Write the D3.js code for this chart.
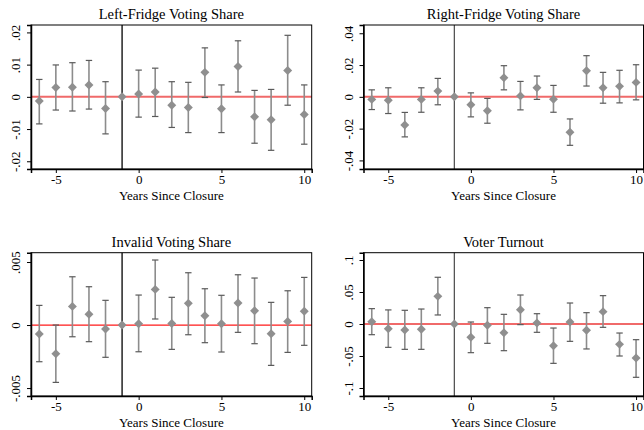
<!DOCTYPE html>
<html>
<head>
<meta charset="utf-8">
<script src="https://cdn.jsdelivr.net/npm/d3@7"></script>
<style>
  html, body { margin: 0; padding: 0; background: #fff; }
  svg { display: block; }
  svg text { font-family: "Liberation Serif", "Times New Roman", serif; fill: #000; }
</style>
</head>
<body>
<svg id="chart" width="644" height="430"></svg>
<script>
// Event-study estimates: years relative to closure, point estimates and 95% CI bounds
const years = [-6, -5, -4, -3, -2, -1, 0, 1, 2, 3, 4, 5, 6, 7, 8, 9, 10];

const leftEst = [-0.0013, 0.0029, 0.0030, 0.0037, -0.0036, 0, 0.0009, 0.0015, -0.0026, -0.0033, 0.0076, -0.0037, 0.0094, -0.0062, -0.0071, 0.0082, -0.0055];
const leftLo  = [-0.0084, -0.0041, -0.0044, -0.0038, -0.0115, 0, -0.0063, -0.0061, -0.0095, -0.0111, -0.0002, -0.0111, 0.0015, -0.0144, -0.0166, -0.0026, -0.0147];
const leftHi  = [0.0054, 0.0099, 0.0106, 0.0113, 0.0047, 0, 0.0083, 0.0089, 0.0047, 0.0045, 0.0152, 0.0037, 0.0174, 0.0020, 0.0023, 0.0191, 0.0037];

const rightEst = [-0.0016, -0.0021, -0.0177, -0.0016, 0.0036, 0, -0.0050, -0.0088, 0.0120, 0.0006, 0.0057, -0.0015, -0.0223, 0.0164, 0.0057, 0.0066, 0.0091];
const rightLo  = [-0.0080, -0.0105, -0.0252, -0.0097, -0.0050, 0, -0.0126, -0.0166, 0.0044, -0.0082, -0.0016, -0.0097, -0.0305, 0.0068, -0.0040, -0.0038, -0.0019];
const rightHi  = [0.0044, 0.0057, -0.0098, 0.0057, 0.0116, 0, 0.0025, -0.0010, 0.0196, 0.0097, 0.0131, 0.0072, -0.0139, 0.0259, 0.0154, 0.0167, 0.0202];

const invalidEst = [-0.00071, -0.00228, 0.00148, 0.00085, -0.00032, 0, 0.00010, 0.00283, 0.00013, 0.00172, 0.00074, 0.00010, 0.00175, 0.00114, -0.00069, 0.00029, 0.00109];
const invalidLo  = [-0.00291, -0.00455, -0.00093, -0.00132, -0.00256, 0, -0.00212, 0.00048, -0.00193, -0.00077, -0.00140, -0.00214, -0.00058, -0.00148, -0.00320, -0.00217, -0.00161];
const invalidHi  = [0.00156, 0.00000, 0.00383, 0.00304, 0.00196, 0, 0.00238, 0.00516, 0.00220, 0.00415, 0.00288, 0.00236, 0.00399, 0.00373, 0.00180, 0.00272, 0.00378];

const turnoutEst = [0.0036, -0.0073, -0.0094, -0.0083, 0.0432, 0, -0.0208, -0.0020, -0.0136, 0.0224, 0.0016, -0.0339, 0.0031, -0.0099, 0.0193, -0.0318, -0.0531];
const turnoutLo  = [-0.0167, -0.0365, -0.0396, -0.0396, 0.0141, 0, -0.0448, -0.0302, -0.0417, -0.0010, -0.0130, -0.0615, -0.0271, -0.0390, -0.0052, -0.0500, -0.0833];
const turnoutHi  = [0.0240, 0.0220, 0.0214, 0.0234, 0.0730, 0, 0.0031, 0.0255, 0.0151, 0.0453, 0.0161, -0.0063, 0.0328, 0.0177, 0.0443, -0.0141, -0.0245];

const xTicks = [-5, 0, 5, 10];
const xTickLabels = ["-5", "0", "5", "10"];
const xTitle = "Years Since Closure";

const panels = [
  { title: "Left-Fridge Voting Share",  est: leftEst,    lo: leftLo,    hi: leftHi,
    yDomain: [-0.0224, 0.0223], yTicks: [-0.02, -0.01, 0, 0.01, 0.02], yLabels: ["-.02", "-.01", "0", ".01", ".02"],
    box: [31, 25, 311.7, 169], zeroColor: "#f06a6a", zeroWidth: 2, refColor: "#000" },
  { title: "Right-Fridge Voting Share", est: rightEst,   lo: rightLo,   hi: rightHi,
    yDomain: [-0.0454, 0.0452], yTicks: [-0.04, -0.02, 0, 0.02, 0.04], yLabels: ["-.04", "-.02", "0", ".02", ".04"],
    box: [363.5, 25, 643.5, 169], zeroColor: "#f06a6a", zeroWidth: 2, refColor: "#555" },
  { title: "Invalid Voting Share",      est: invalidEst, lo: invalidLo, hi: invalidHi,
    yDomain: [-0.00563, 0.00574], yTicks: [-0.005, 0, 0.005], yLabels: ["-.005", "0", ".005"],
    box: [31, 252.7, 311.7, 396], zeroColor: "#ff1a1a", zeroWidth: 1.3, refColor: "#000" },
  { title: "Voter Turnout",             est: turnoutEst, lo: turnoutLo, hi: turnoutHi,
    yDomain: [-0.1125, 0.1114], yTicks: [-0.1, -0.05, 0, 0.05, 0.1], yLabels: ["-.1", "-.05", "0", ".05", ".1"],
    box: [363.5, 252.7, 643.5, 396], zeroColor: "#f06a6a", zeroWidth: 2, refColor: "#555" }
];

const serif = '"Liberation Serif", "Times New Roman", serif';
const svg = d3.select("#chart");
const diamond = d3.symbol().type(d3.symbolSquare).size(40);

panels.forEach(p => {
  const [x0, y0, x1, y1] = p.box;
  const x = d3.scaleLinear().domain([-6.5, 10.45]).range([x0, x1]);
  const y = d3.scaleLinear().domain(p.yDomain).range([y1, y0]);
  const g = svg.append("g");
  const cx = (x0 + x1) / 2;

  // panel title
  g.append("text")
    .attr("x", cx)
    .attr("y", y0 - 6)
    .attr("text-anchor", "middle")
    .attr("font-family", serif)
    .attr("font-size", 14.5)
    .text(p.title);

  // reference line at zero
  g.append("line")
    .attr("x1", x0).attr("x2", x1)
    .attr("y1", y(0)).attr("y2", y(0))
    .attr("stroke", p.zeroColor).attr("stroke-width", p.zeroWidth);

  // vertical line at the year before closure
  g.append("line")
    .attr("x1", x(-1)).attr("x2", x(-1))
    .attr("y1", y0).attr("y2", y1)
    .attr("stroke", p.refColor).attr("stroke-width", 1.3);

  const pts = years.map((yr, i) => ({ yr, est: p.est[i], lo: p.lo[i], hi: p.hi[i] }));
  const ci = pts.filter(d => d.yr !== -1);

  // confidence interval spikes
  g.selectAll(".spike").data(ci).enter().append("line")
    .attr("x1", d => x(d.yr)).attr("x2", d => x(d.yr))
    .attr("y1", d => y(d.lo)).attr("y2", d => y(d.hi))
    .attr("stroke", "#8c8c8c").attr("stroke-width", 1.6);

  // caps
  ["lo", "hi"].forEach(k => {
    g.selectAll(".cap-" + k).data(ci).enter().append("line")
      .attr("x1", d => x(d.yr) - 3.2).attr("x2", d => x(d.yr) + 3.2)
      .attr("y1", d => y(d[k])).attr("y2", d => y(d[k]))
      .attr("stroke", "#5a5a5a").attr("stroke-width", 1.2);
  });

  // point estimates
  g.selectAll(".pt").data(pts).enter().append("path")
    .attr("d", diamond)
    .attr("transform", d => `translate(${x(d.yr)},${y(d.est)}) rotate(45)`)
    .attr("fill", "#8f8f8f");

  // plot region frame
  g.append("rect")
    .attr("x", x0).attr("y", y0)
    .attr("width", x1 - x0).attr("height", y1 - y0)
    .attr("fill", "none").attr("stroke", "#000").attr("stroke-width", 1);

  // axes
  const xAxis = d3.axisBottom(x).tickValues(xTicks).tickSize(4).tickPadding(2)
    .tickFormat((d, i) => xTickLabels[i]);
  const gx = g.append("g").attr("transform", `translate(0,${y1})`).call(xAxis)
    .attr("font-family", serif).attr("font-size", 13);
  gx.select(".domain").attr("stroke-width", 1.5);

  const yAxis = d3.axisLeft(y).tickValues(p.yTicks).tickSize(4).tickFormat((d, i) => p.yLabels[i]);
  const gy = g.append("g").attr("transform", `translate(${x0},0)`).call(yAxis)
    .attr("font-family", serif).attr("font-size", 13);
  gy.select(".domain").attr("stroke-width", 1.5);
  gy.selectAll(".tick text")
    .attr("x", 0).attr("dy", 0)
    .attr("text-anchor", "middle")
    .attr("transform", "translate(-11,0) rotate(-90)");

  // x-axis title
  g.append("text")
    .attr("x", cx)
    .attr("y", y1 + 30.5)
    .attr("text-anchor", "middle")
    .attr("font-family", serif)
    .attr("font-size", 13)
    .text(xTitle);
});
</script>
</body>
</html>
